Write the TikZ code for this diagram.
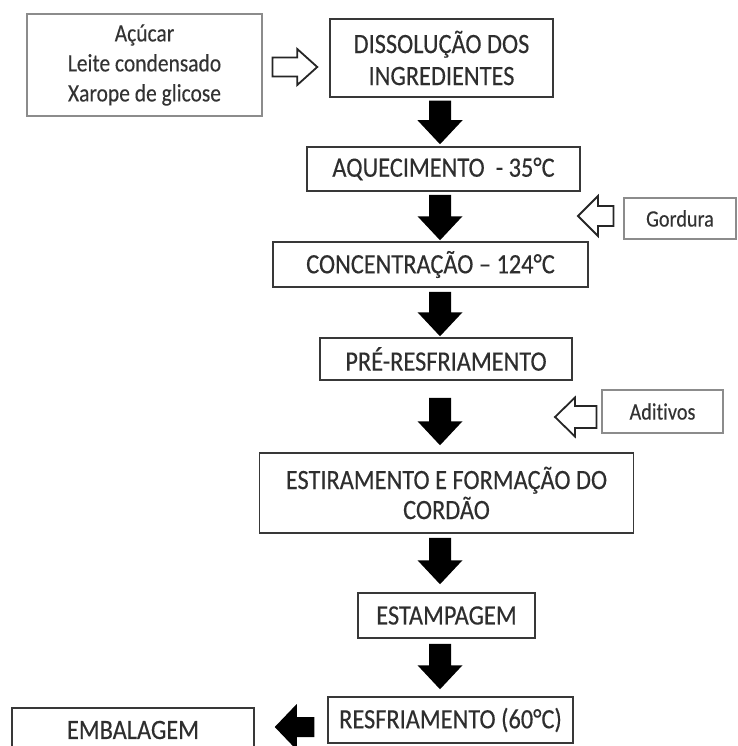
\documentclass[tikz,border=0pt]{standalone}
\usepackage{fontspec}
\setmainfont{Carlito}
\newfontfamily\cf[FakeStretch=0.87,FakeBold=0.3,Ligatures=NoCommon]{Carlito}
\newfontfamily\cfs[FakeStretch=0.86,FakeBold=0.2,Ligatures=NoCommon]{Carlito}
\usetikzlibrary{calc}
\newcommand\fmain{\cf\fontsize{28}{32}\selectfont}
\newcommand\fside{\cfs\fontsize{25}{30}\selectfont}
\newcommand\fsmall{\cfs\fontsize{23.5}{26}\selectfont}
% filled / hollow block arrows between two points (tail, tip)
\newcommand\BlkDown[2]{%
  \fill[black] let \p1=#1, \p2=#2 in
  ({\x2-11pt},\y1) -- ({\x2+11pt},\y1) -- ({\x2+11pt},{\y2+24pt}) --
  ({\x2+22.5pt},{\y2+24pt}) -- (\x2,\y2) -- ({\x2-22.5pt},{\y2+24pt}) --
  ({\x2-11pt},{\y2+24pt}) -- cycle;}
\newcommand\ArrLeft[6]{%
  \path[#1] let \p1=#2, \p2=#3 in
  (\x1,{\y2+#5pt}) -- ({\x2+#6pt},{\y2+#5pt}) -- ({\x2+#6pt},{\y2+#4pt}) --
  (\x2,\y2) -- ({\x2+#6pt},{\y2-#4pt}) -- ({\x2+#6pt},{\y2-#5pt}) --
  (\x1,{\y2-#5pt}) -- cycle;}
\newcommand\ArrRight[6]{%
  \path[#1] let \p1=#2, \p2=#3 in
  (\x1,{\y2+#5pt}) -- ({\x2-#6pt},{\y2+#5pt}) -- ({\x2-#6pt},{\y2+#4pt}) --
  (\x2,\y2) -- ({\x2-#6pt},{\y2-#4pt}) -- ({\x2-#6pt},{\y2-#5pt}) --
  (\x1,{\y2-#5pt}) -- cycle;}
\begin{document}
\begin{tikzpicture}[x=1pt,y=-1pt,
  box/.style={draw=black!78, line width=1.5pt, inner sep=0pt, align=center,
              text=black!82, font=\fmain},
  sidebox/.style={draw=black!45, line width=1.1pt, inner sep=0pt, align=center,
              text=black!80},
  hollow/.style={draw=black!85, fill=white, line width=1.8pt, line join=miter},
  solidarrow/.style={fill=black}]
\useasboundingbox (0,0) rectangle (737,746);
\fill[white] (0,0) rectangle (737,746);
\coordinate (col) at (440,0);
\coordinate (gtip) at (578,216);
\coordinate (atip) at (555,417);

\node[sidebox, font=\fside, minimum width=235pt, minimum height=102pt] (A) at (144.5,65)
  {Açúcar\\Leite condensado\\Xarope de glicose};
\node[box, minimum width=223pt, minimum height=78pt] (B) at (441.5,58)
  {DISSOLUÇÃO DOS\\INGREDIENTES};
\node[box, minimum width=273pt, minimum height=44pt] (C) at (443.5,169)
  {AQUECIMENTO~ - 35°C};
\node[sidebox, font=\fsmall, minimum width=112pt, minimum height=41pt] (Gord) at (680,218.5)
  {Gordura};
\node[box, minimum width=315pt, minimum height=45pt] (D) at (430.5,264.5)
  {CONCENTRAÇÃO – 124°C};
\node[box, minimum width=252pt, minimum height=42pt] (E) at (446,359)
  {PRÉ-RESFRIAMENTO};
\node[sidebox, font=\fsmall, minimum width=121pt, minimum height=43pt] (Adit) at (662.5,411.5)
  {Aditivos};
\node[box, font=\cf\fontsize{28}{30}\selectfont, minimum width=374pt, minimum height=80pt] (F) at (446.5,493)
  {ESTIRAMENTO E FORMAÇÃO DO\\CORDÃO};
\node[box, minimum width=177pt, minimum height=45pt] (G) at (446.5,615.5)
  {ESTAMPAGEM};
\node[box, minimum width=245pt, minimum height=46pt] (H) at (450.5,720)
  {RESFRIAMENTO (60°C)};
\node[box, minimum width=242pt, minimum height=44pt] (EMB) at (133,730)
  {EMBALAGEM};

\ArrRight{hollow}{($(A.east)+(10,2)$)}{($(B.west)+(-12,9)$)}{18}{9.5}{20}
\BlkDown{($(col |- B.south)+(0,3)$)}{($(col |- C.north)+(0,-2)$)}
\BlkDown{($(col |- C.south)+(0,3)$)}{($(col |- D.north)+(0,-1)$)}
\ArrLeft{hollow}{($(Gord.west)+(-10,0)$)}{(gtip)}{20}{10}{20}
\BlkDown{($(col |- D.south)+(0,4)$)}{($(col |- E.north)+(0,-1)$)}
\BlkDown{($(col |- E.south)+(0,17)$)}{($(col |- F.north)+(0,-7)$)}
\ArrLeft{hollow}{($(Adit.west)+(-5,0)$)}{(atip)}{19.5}{11}{20}
\BlkDown{($(col |- F.south)+(0,4)$)}{($(col |- G.north)+(0,-8)$)}
\BlkDown{($(col |- G.south)+(0,5)$)}{($(col |- H.north)+(0,-7)$)}
\ArrLeft{solidarrow}{($(H.west)+(-13,7)$)}{($(EMB.east)+(20,-3)$)}{23}{10}{22}
\end{tikzpicture}
\end{document}
